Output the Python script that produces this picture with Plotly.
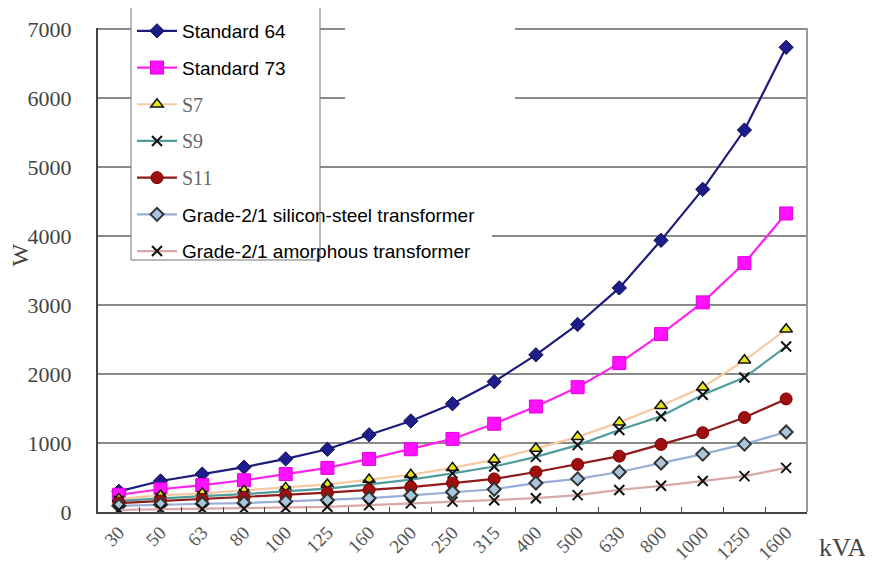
import plotly.graph_objects as go

categories = ["30", "50", "63", "80", "100", "125", "160", "200", "250", "315",
              "400", "500", "630", "800", "1000", "1250", "1600"]

std64 = [300, 450, 550, 650, 770, 910, 1120, 1320, 1570, 1890, 2280, 2720, 3250, 3940, 4680, 5540, 6740]
std73 = [250, 330, 390, 460, 550, 640, 770, 910, 1060, 1280, 1530, 1810, 2160, 2580, 3040, 3610, 4330]
s7 = [190, 240, 270, 310, 350, 400, 470, 540, 640, 760, 920, 1090, 1300, 1540, 1810, 2200, 2650]
s9 = [160, 200, 230, 260, 300, 340, 400, 470, 560, 660, 800, 970, 1190, 1390, 1700, 1950, 2400]
s11 = [130, 160, 180, 210, 240, 280, 320, 360, 420, 480, 580, 690, 810, 980, 1150, 1370, 1640]
silicon = [90, 110, 120, 130, 150, 170, 200, 240, 290, 330, 420, 480, 580, 710, 840, 985, 1160]
amorph = [30, 40, 45, 50, 60, 75, 100, 125, 150, 170, 200, 245, 320, 380, 450, 520, 640]

y_ticks = [0, 1000, 2000, 3000, 4000, 5000, 6000, 7000]

SERIF = "Liberation Serif, DejaVu Serif, serif"
SANS = "Liberation Sans, Arial, sans-serif"


def serif_name(t):
    return f'<span style="font-family:{SERIF};color:#666666;font-size:20px">{t}</span>'


series = [
    ("Standard 64", std64, "#1c1c7a", dict(symbol="diamond", size=11, color="#1c1c8a",
                                          line=dict(color="#10104a", width=1))),
    ("Standard 73", std73, "#ff22ee", dict(symbol="square", size=13, color="#ff11ff",
                                          line=dict(color="#dd00dd", width=1))),
    (serif_name("S7"), s7, "#f6c9a0", dict(symbol="triangle-up", size=11, color="#e6e61a",
                                          line=dict(color="#111111", width=1.5))),
    (serif_name("S9"), s9, "#4f9c9c", dict(symbol="x-thin", size=10, color="#111111",
                                          line=dict(color="#111111", width=2))),
    (serif_name("S11"), s11, "#8e1a1a", dict(symbol="circle", size=12, color="#9e0f0f",
                                            line=dict(color="#7a0000", width=1))),
    ("Grade-2/1 silicon-steel transformer", silicon, "#98aed6",
     dict(symbol="diamond", size=10, color="#a9c6dc", line=dict(color="#333333", width=2))),
    ("Grade-2/1 amorphous transformer", amorph, "#d9a8a8",
     dict(symbol="x-thin", size=10, color="#111111", line=dict(color="#111111", width=2))),
]

fig = go.Figure()
for i, (name, vals, lc, mk) in enumerate(series):
    fig.add_trace(go.Scatter(
        x=categories, y=vals, name=name, mode="lines+markers",
        line=dict(color=lc, width=2.2), marker=mk,
        legendgroup=f"g{i}",
    ))

# the page body adds an 8px offset, so the figure is sized to fill the rest of the window
W_FIG, H_FIG = 865, 562
L, R, T, B = 90, 66, 20, 58
PW, PH = W_FIG - L - R, H_FIG - T - B
Y_MAX = 7020  # a hair above 7000 so the top gridline is drawn
N_CAT = len(categories)


def px_x(x):  # window pixel -> paper x
    return (x - 8 - L) / PW


def px_y(y):  # window pixel -> paper y
    return (H_FIG - B - (y - 8)) / PH


def ax_x(x):  # window pixel -> category-axis units
    return -0.5 + px_x(x) * N_CAT


def ax_y(y):  # window pixel -> value-axis units
    return px_y(y) * Y_MAX


# white backing patches of the pasted legend (cover the gridlines)
patches = [
    (131, 0, 320, 260),
    (345, 0, 515, 110),
    (320, 196, 492, 272),
]
shapes = [
    dict(type="rect", xref="x", yref="y", layer="between",
         x0=ax_x(x0), x1=ax_x(x1), y0=ax_y(y1), y1=ax_y(y0),
         fillcolor="white", line=dict(width=0))
    for (x0, y0, x1, y1) in patches
]
# legend frame
shapes.append(dict(type="rect", xref="paper", yref="paper", layer="above",
                   x0=px_x(131), x1=px_x(320), y0=px_y(260), y1=px_y(7),
                   fillcolor="rgba(0,0,0,0)", line=dict(color="#777777", width=1)))
# light right-hand frame line of the plot area
shapes.append(dict(type="line", xref="paper", yref="paper", layer="above",
                   x0=1, x1=1, y0=0, y1=1, line=dict(color="#9a9a9a", width=2)))

fig.update_layout(
    width=W_FIG, height=H_FIG,
    margin=dict(l=L, r=R, t=T, b=B, autoexpand=False),
    paper_bgcolor="white", plot_bgcolor="white",
    font=dict(family=SANS, size=19, color="#000000"),
    showlegend=True,
    shapes=shapes,
    legend=dict(
        xref="container", yref="container",
        x=(132 - 8) / W_FIG, y=1 - (12 - 8) / H_FIG, xanchor="left", yanchor="top",
        bgcolor="rgba(0,0,0,0)", borderwidth=0,
        font=dict(family=SANS, size=19, color="#000000"),
        traceorder="grouped", tracegroupgap=9, itemwidth=40,
    ),
    xaxis=dict(
        type="category", categoryorder="array", categoryarray=categories,
        range=[-0.5, N_CAT - 0.5], automargin=False,
        showgrid=False, showline=True, linecolor="#444444", linewidth=2,
        ticks="inside", tickson="boundaries", ticklen=5, tickcolor="#444444",
        tickangle=-45,
        tickfont=dict(family=SERIF, size=19, color="#555555"),
    ),
    yaxis=dict(
        range=[0, Y_MAX], tickvals=y_ticks, automargin=False,
        showgrid=True, gridcolor="#8a8a8a", gridwidth=1.5,
        showline=True, linecolor="#444444", linewidth=2, mirror=False,
        ticks="", ticklabelstandoff=20,
        tickfont=dict(family=SERIF, size=22, color="#444444"),
        zeroline=False,
    ),
    annotations=[
        dict(text="kVA", xref="paper", yref="paper", x=1.014, y=-0.073,
             xanchor="left", yanchor="middle", showarrow=False,
             font=dict(family=SERIF, size=26, color="#444444")),
        dict(text="W", xref="paper", yref="paper", x=-0.11, y=0.53,
             xanchor="center", yanchor="middle", showarrow=False, textangle=-90,
             font=dict(family=SERIF, size=24, color="#444444")),
    ],
)

fig.write_html("out.html")
